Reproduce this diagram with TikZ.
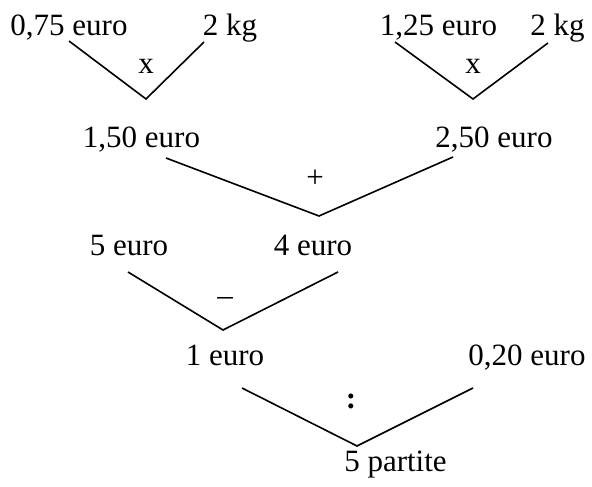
\documentclass[tikz,border=0pt]{standalone}
\usepackage{fontspec}
\setmainfont{Liberation Serif}
\begin{document}
\begin{tikzpicture}[x=1pt,y=-1pt,
  lbl/.style={inner sep=0pt,anchor=base,font=\fontsize{31}{36}\selectfont},
  op/.style={inner sep=0pt,anchor=base,font=\fontsize{31}{36}\selectfont},
  vline/.style={line width=1.6pt,line join=miter}]
\useasboundingbox (0,0) rectangle (592,487);
% labels
\node[lbl] (a1) at (69,36) {0,75 euro};
\node[lbl] (a2) at (230,36) {2 kg};
\node[lbl] (b1) at (438.5,36) {1,25 euro};
\node[lbl] (b2) at (557.5,36) {2 kg};
\node[lbl] (c1) at (141.5,147) {1,50 euro};
\node[lbl] (c2) at (494,147) {2,50 euro};
\node[lbl] (d1) at (129,255) {5 euro};
\node[lbl] (d2) at (313,255) {4 euro};
\node[lbl] (e1) at (225,365) {1 euro};
\node[lbl] (e2) at (527,365) {0,20 euro};
\node[lbl] (f) at (395.5,471) {5 partite};
% operators
\node[op] (o1) at (146,74) {x};
\node[op] (o2) at (473,74) {x};
\node[op] (o3) at (315,187) {+};
\node[op] (o4) at (225,305) {–};
\node[op] (o5) at (351,408) {\textbf{:}};
% connector points
\coordinate (p1) at (69,41);  \coordinate (v1) at (146,99);  \coordinate (q1) at (204,42);
\coordinate (p2) at (395,42); \coordinate (v2) at (473,99);  \coordinate (q2) at (548,43);
\coordinate (p3) at (166,158);\coordinate (v3) at (319,216); \coordinate (q3) at (453,157);
\coordinate (p4) at (128,272);\coordinate (v4) at (223,330); \coordinate (q4) at (338,272);
\coordinate (p5) at (242,388);\coordinate (v5) at (357,446); \coordinate (q5) at (473,388);
\draw[vline] (p1) -- (v1) -- (q1);
\draw[vline] (p2) -- (v2) -- (q2);
\draw[vline] (p3) -- (v3) -- (q3);
\draw[vline] (p4) -- (v4) -- (q4);
\draw[vline] (p5) -- (v5) -- (q5);
\end{tikzpicture}
\end{document}
